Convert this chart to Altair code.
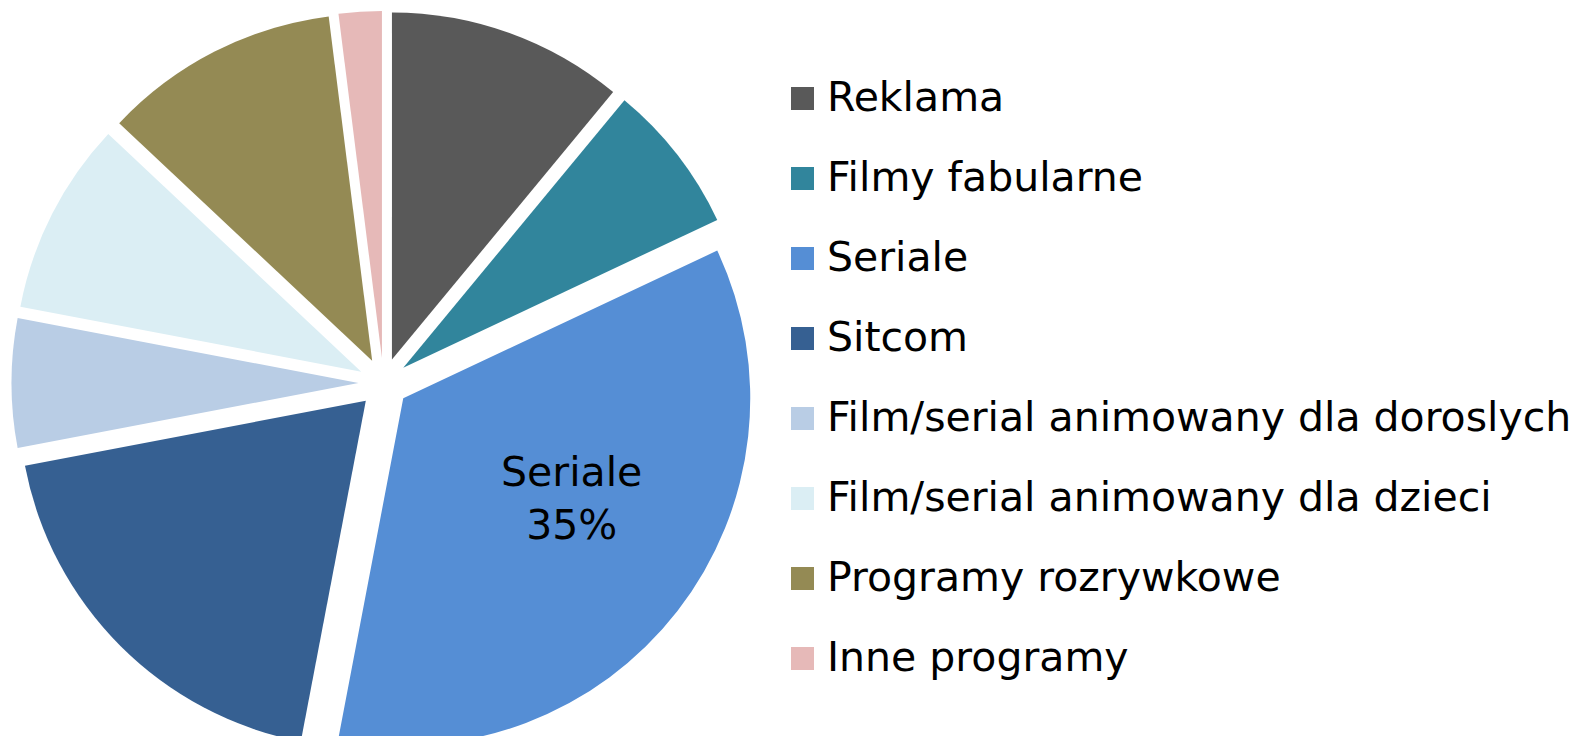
import altair as alt
import pandas as pd

categories = ["Reklama", "Filmy fabularne", "Seriale", "Sitcom",
              "Film/serial animowany dla doroslych", "Film/serial animowany dla dzieci",
              "Programy rozrywkowe", "Inne programy"]
values = [11, 7, 35, 19, 6, 9, 11, 2]
colors = ["#595959", "#31859C", "#558ED5", "#366092",
          "#B9CDE5", "#DBEEF4", "#948A54", "#E6B9B8"]

df = pd.DataFrame({"cat": categories, "value": values, "idx": list(range(len(categories)))})

W, H = 1562, 728
CX, CY = 375.5, 375
R = 347
D = 25
FONT = "DejaVu Sans"
FS = 41

base = alt.Chart(df).transform_window(
    cum="sum(value)", sort=[alt.SortField("idx")], frame=[None, 0]
).transform_joinaggregate(
    total="sum(value)"
).transform_calculate(
    mid="(datum.cum - datum.value/2)/datum.total*2*PI"
).transform_calculate(
    px=f"{CX} + {D}*sin(datum.mid)",
    py=f"{CY} - {D}*cos(datum.mid)",
    label="datum.cat == 'Seriale' ? datum.cat + '\\n' + datum.value + '%' : ''",
)

enc = dict(
    theta=alt.Theta("value:Q", stack=True),
    order=alt.Order("idx:Q"),
    x=alt.X("px:Q", scale=None, axis=None),
    y=alt.Y("py:Q", scale=None, axis=None),
)

arcs = base.mark_arc(radius=R, stroke=None).encode(
    color=alt.Color(
        "cat:N",
        scale=alt.Scale(domain=categories, range=colors),
        sort=categories,
        legend=alt.Legend(
            title=None, orient="none", legendX=774, legendY=70,
            symbolType="square", symbolSize=529, symbolStrokeWidth=0,
            labelFont=FONT, labelFontSize=FS, labelColor="#000000",
            labelOffset=4, rowPadding=38, labelLimit=1000,
        ),
    ),
    **enc,
)

labels = base.mark_text(
    radius=198, font=FONT, fontSize=FS, color="#000000",
    lineBreak="\n", lineHeight=53, dx=12, dy=-46,
).encode(text="label:N", **enc)

chart = alt.layer(arcs, labels).properties(
    width=W, height=H, padding=0,
    autosize=alt.AutoSizeParams(type="none"),
).configure_view(stroke=None)

chart.save("out.html", embed_options={"renderer": "svg", "actions": False})
